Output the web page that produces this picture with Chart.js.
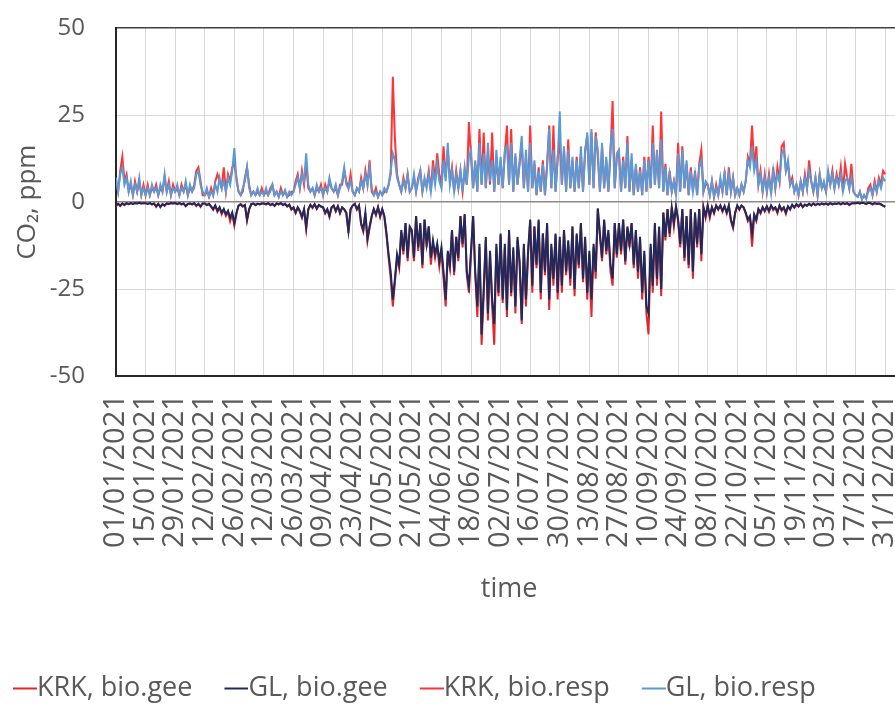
<!DOCTYPE html>
<html>
<head>
<meta charset="utf-8">
<title>CO2 bio fluxes 2021</title>
<script src="https://cdn.jsdelivr.net/npm/chart.js@4.4.0/dist/chart.umd.min.js"></script>
<style>
    html, body { margin: 0; padding: 0; background: #ffffff; overflow: hidden; }
    #wrap { width: 920px; height: 712px; }
</style>
</head>
<body>
<div id="wrap"><canvas id="co2-chart" width="920" height="712"></canvas></div>
<script>
// Tick labels on the time axis, one every 14 days
const tickLabels = [
    '01/01/2021', '15/01/2021', '29/01/2021', '12/02/2021', '26/02/2021', '12/03/2021', '26/03/2021',
    '09/04/2021', '23/04/2021', '07/05/2021', '21/05/2021', '04/06/2021', '18/06/2021', '02/07/2021',
    '16/07/2021', '30/07/2021', '13/08/2021', '27/08/2021', '10/09/2021', '24/09/2021', '08/10/2021',
    '22/10/2021', '05/11/2021', '19/11/2021', '03/12/2021', '17/12/2021', '31/12/2021'
];
const tickDays = tickLabels.map((_, i) => i * 14);

const seriesNames = ['KRK, bio.gee', 'GL, bio.gee', 'KRK, bio.resp', 'GL, bio.resp'];

// Daily values (ppm), 01/01/2021 .. 31/12/2021, one row per two weeks
const krkGee = [
    -1.2,-0.5,-1.1,-0.4,-0.9,-0.3,-0.6,-0.3,-0.5,-0.3,-0.4,-0.2,-0.4,-0.3,
    -0.3,-0.5,-0.3,-0.7,-0.4,-1.4,-0.5,-1.5,-0.6,-1.1,-0.4,-0.6,-0.3,-0.4,
    -0.3,-0.6,-0.3,-0.7,-0.4,-1.2,-0.5,-0.4,-0.7,-0.3,-1.1,-0.5,-1.4,-0.4,
    -0.4,-0.9,-0.5,-1.4,-2.3,-1,-2.8,-1.6,-3.5,-2.2,-4,-2.8,-5.5,-3.4,
    -6.8,-3.5,-1,-0.6,-1.3,-0.9,-5.4,-2.2,-0.6,-0.4,-0.9,-0.5,-0.7,-0.4,
    -0.4,-0.7,-0.3,-0.9,-0.5,-1.1,-0.4,-0.7,-0.3,-0.9,-0.5,-1.3,-0.8,-2.2,
    -1.6,-3.2,-1.6,-2.8,-4.5,-2.2,-7.8,-2.2,-0.8,-1.7,-0.6,-2,-0.9,-1.4,
    -1.6,-3.3,-2.2,-4.3,-1.6,-1,-2.7,-1.2,-3.3,-1.6,-2.2,-3.3,-8.9,-2.2,
    -1,-0.5,-2.2,-1,-6.5,-8.5,-3.2,-11.2,-7.5,-4.2,-2,-3.8,-1.5,-4.3,
    -2.2,-4.3,-9.5,-16,-22,-30,-23,-16,-19,-8.5,-15,-6,-17,-7.5,
    -8.5,-17,-4,-14,-6.5,-19,-5,-13,-7,-18,-12,-16,-12.5,-18.5,
    -14,-22,-30,-15,-19,-8,-21,-10,-17,-4,-13,-3.5,-21,-26,
    -15,-4,-21,-33,-13,-41,-27,-11,-34,-15,-30,-41,-13,-27,
    -9.5,-29,-13,-33,-8.5,-27,-14,-32,-11,-18,-35,-13,-30,-15,
    -5.5,-26,-7,-19,-5.5,-28,-9,-21,-6.5,-31,-13,-24,-9.5,-28,
    -11,-26,-8,-21,-12,-24,-7,-27,-9.5,-19,-6,-23,-11,-28,
    -15,-33,-13,-22,-2,-10,-17,-5.5,-15,-9,-20,-24,-6,-16,
    -6.5,-15,-5,-18,-7.5,-13,-6,-19,-8.5,-22,-11,-28,-15,-32,
    -38,-13,-26,-6.5,-24,-7.5,-27,-3,-11,-2,-10,-1.5,-7,-1.3,
    -5.5,-13,-2,-17,-4,-19,-2,-22,-3,-13,-2,-17,-1.5,-4.5,
    -1,-4.5,-1.5,-3.3,-1,-2.2,-1,-2.8,-1.2,-3.3,-1,-5.5,-7.5,-3.2,
    -1,-2.2,-1,-1.6,-3.3,-5.5,-4.5,-12.8,-4,-5.5,-2.2,-3.3,-1.5,-2.7,
    -1.3,-2.8,-1,-2.3,-1.6,-3.2,-1,-2.5,-1.6,-3.4,-1.3,-2.2,-0.8,-1.6,
    -0.7,-1.3,-0.5,-1.5,-0.8,-1.1,-0.5,-1,-0.4,-0.9,-0.5,-0.8,-0.4,-0.7,
    -0.4,-0.8,-0.3,-0.7,-0.4,-0.6,-0.3,-0.7,-0.3,-0.6,-0.3,-0.9,-0.4,-0.3,
    -0.3,-0.2,-0.4,-0.2,-0.3,-0.6,-0.2,-0.3,-0.7,-0.3,-0.6,-0.4,-0.7,-1.1,
    -1.4
];
const glGee = [
    -1,-0.5,-1,-0.4,-0.8,-0.3,-0.6,-0.3,-0.5,-0.3,-0.4,-0.2,-0.4,-0.3,
    -0.3,-0.5,-0.3,-0.6,-0.4,-1.2,-0.5,-1.3,-0.6,-1,-0.4,-0.5,-0.3,-0.4,
    -0.3,-0.5,-0.3,-0.6,-0.4,-1.1,-0.5,-0.4,-0.6,-0.3,-1,-0.5,-1.2,-0.4,
    -0.4,-0.8,-0.5,-1.2,-2,-1,-2.5,-1.5,-3,-2,-3.5,-2.5,-4.5,-3,
    -6,-3,-1,-0.6,-1.2,-0.8,-5,-2,-0.6,-0.4,-0.8,-0.5,-0.6,-0.4,
    -0.4,-0.6,-0.3,-0.8,-0.5,-1,-0.4,-0.6,-0.3,-0.8,-0.5,-1.2,-0.7,-2,
    -1.5,-3,-1.5,-2.5,-4.2,-2,-7.3,-2,-0.8,-1.5,-0.6,-1.8,-0.8,-1.2,
    -1.5,-3,-2,-4,-1.5,-1,-2.5,-1.2,-3,-1.5,-2,-3,-8.3,-2,
    -1,-0.5,-2,-1,-6,-8,-3,-10.5,-7,-4,-2,-3.5,-1.5,-4,
    -2,-4,-9,-15,-20,-28,-22,-15,-18,-8,-14,-6,-16,-7,
    -8,-16,-4,-13,-6,-18,-5,-12,-7,-16,-11,-15,-12,-17,
    -13,-20,-28,-14,-18,-8,-20,-10,-16,-4,-12,-3.5,-20,-24,
    -14,-4,-20,-30,-12,-38,-25,-10,-32,-14,-28,-35,-12,-26,
    -9,-28,-12,-31,-8,-26,-13,-30,-10,-17,-34,-12,-28,-14,
    -5,-24,-7,-18,-5,-26,-9,-20,-6,-28,-12,-22,-9,-26,
    -10,-24,-8,-20,-11,-22,-7,-25,-9,-18,-6,-22,-10,-26,
    -14,-28,-12,-20,-1.8,-9,-16,-5,-14,-8,-18,-22,-6,-15,
    -6,-14,-5,-17,-7,-12,-6,-18,-8,-20,-10,-26,-14,-30,
    -32,-12,-24,-6,-22,-7,-25,-3,-10,-2,-9,-1.5,-6,-1.3,
    -5,-12,-2,-16,-4,-18,-2,-20,-3,-12,-2,-15,-1.5,-4,
    -1,-4,-1.5,-3,-1,-2,-1,-2.5,-1.2,-3,-1,-5,-7,-3,
    -1,-2,-1,-1.5,-3,-5,-4,-9,-3.5,-5,-2,-3,-1.5,-2.5,
    -1.2,-2.5,-1,-2,-1.5,-2.8,-1,-2.2,-1.5,-3,-1.2,-2,-0.8,-1.5,
    -0.6,-1.2,-0.5,-1.4,-0.7,-1,-0.5,-0.9,-0.4,-0.8,-0.5,-0.7,-0.4,-0.6,
    -0.4,-0.7,-0.3,-0.6,-0.4,-0.5,-0.3,-0.6,-0.3,-0.5,-0.3,-0.8,-0.4,-0.3,
    -0.3,-0.2,-0.4,-0.2,-0.3,-0.5,-0.2,-0.3,-0.6,-0.3,-0.5,-0.4,-0.6,-1,
    -1.3
];
const krkResp = [
    6,3,9,13,6,8,3,5,2,6,3,6,2,5,
    2,5,2,4,3,5,2,4,3,7,3,6,2,5,
    3,4,2,5,3,5,2,4,3,5,9,10,6,2,
    2,3,1.5,4,2,6,8,6,4,10,3,8,6,10,
    11,7,3,2,3,7,10,5,2,3,2,3,2,4,
    2,3,2,4,5,2,3,1.5,4,2,3,1.5,2,3,
    3,6,8,4,9,5,11,4,3,4,2,4,3,5,
    2,5,3,6,4,3,4,2,5,5,9,6,4,8,
    3,2,4,3,7,4,9,5,12,3,2,4,1.5,3,
    2,3,3,5,8,36,18,8,5,3,7,4,8,3,
    4,7,3,7,9,3,6,5,9,3,12,6,14,8,
    5,16,7,15,6,10,3,9,4,9,3,9,5,23,
    13,4,11,3,21,5,20,4,14,5,20,3,13,5,
    12,4,14,22,5,21,3,13,5,11,17,4,13,3,
    22,4,11,2,10,3,12,2,11,22,4,22,3,13,
    17,5,15,3,18,4,12,3,13,4,14,3,15,19,
    5,20,4,20,13,3,16,4,12,3,14,29,4,13,
    14,3,13,4,19,3,12,2,10,3,10,2,13,3,
    13,4,22,5,14,4,26,3,11,2,9,3,6,2,
    17,3,16,4,11,2,10,3,9,2,11,15,3,5,
    5,2,6,1.5,5,2,6,3,8,2,10,3,7,2,
    4,2,5,3,6,13,11,22,10,16,5,9,3,8,
    3,8,2.5,10,4,10,6,16,17,9,11,5,7,3,
    5,2,6,3,8,4,12,6,3,7,2,8,4,5,
    3,8,5,9,4,8,5,10,3,11,7,4,11,3,
    2,1.5,3,0.8,2,1,4,5,2,6,3,7,5,9,
    8
];
const glResp = [
    7,3,8,10,5,7,3,6,2,5,3,7,2,4,
    2,4,2,5,3,4,2,5,3,8,3,5,2,4,
    3,5,2,4,3,6,2,5,3,4,8,9,5,3,
    2,4,1.5,3,2,5,3,7,4,6,3,7,5,9,
    15.5,6,3,2,4,6,10,4,2,3,2,4,2,3,
    2,4,2,3,5,2,3,1.5,3,2,3.5,1.5,3,2,
    3,5,7,4,8,6,14,5,3,4,2,5,3,4,
    2,4,3,7,4,3,5,2,4,6,10,5,4,6,
    3,2,4,3,6,4,8,5,10,4,2,3,1.5,3,
    2,4,3,5,9,14,12,7,5,3,6,4,8,3,
    4,8,3,6,9,3,7,4,8,3,9,5,11,6,
    4,12,6,17,5,9,3,8,4,9,3,10,5,13,
    15,4,12,3,17,5,14,4,17,6,12,3,15,5,
    13,4,15,16,5,17,3,14,5,12,19,4,15,3,
    17,4,12,2,9,3,11,2,10,21,4,15,3,12,
    26,5,16,3,15,4,13,3,12,4,16,3,14,20,
    5,21,4,19,15,3,17,4,13,3,16,21,4,14,
    15,3,12,4,17,3,14,2,11,3,9,2,12,3,
    12,4,17,5,15,4,18,3,10,2,8,3,6,2,
    14,3,15,4,12,2,9,3,8,2,10,12,3,6,
    5,2,6,1.5,4,2,7,3,9,2,8,3,7,2,
    4,2,5,3,6,12,10,16,9,12,5,8,3,7,
    3,7,2.5,9,4,8,6,14,15,9,12,5,6,3,
    5,2,6,3,7,4,9,6,3,7,2,8,4,6,
    3,9,5,8,4,7,5,8,3,6,7,4,7,3,
    2,1.5,3,0.8,2,1,3,4,2,5,3,6,4,7,
    6
];

const seriesValues = [krkGee, glGee, krkResp, glResp];
const seriesColors = ['#e3262b', '#1f2a5c', '#ff3434', '#5a9ad6'];
// Excel draws later series on top; Chart.js draws lower "order" on top
const seriesOrder = [4, 3, 2, 1];

seriesValues.forEach((arr, i) => {
    if (arr.length !== 365) throw new Error(seriesNames[i] + ' has ' + arr.length + ' values');
});

// Short line used as legend symbol, sitting right against the label text
function legendLine(color) {
    const c = document.createElement('canvas');
    c.width = 38;
    c.height = 10;
    const g = c.getContext('2d');
    g.fillStyle = color;
    g.fillRect(14, 4, 24, 2);
    return c;
}

const textColor = '#595959';
const fontFamily = "'Open Sans', 'DejaVu Sans', sans-serif";
Chart.defaults.font.family = fontFamily;
Chart.defaults.color = textColor;

const datasets = seriesNames.map((name, i) => ({
    label: name,
    data: seriesValues[i].map((v, day) => ({ x: day, y: v })),
    borderColor: seriesColors[i],
    backgroundColor: seriesColors[i],
    borderWidth: 2,
    pointRadius: 0,
    pointStyle: legendLine(seriesColors[i]),
    tension: 0,
    order: seriesOrder[i]
}));

const ctx = document.getElementById('co2-chart').getContext('2d');
const co2Chart = new Chart(ctx, {
    type: 'line',
    data: { datasets: datasets },
    options: {
        responsive: false,
        animation: false,
        devicePixelRatio: 1,
        layout: { padding: { top: 28, left: -19, right: 0, bottom: 0 } },
        plugins: {
            tooltip: { enabled: false },
            legend: {
                position: 'bottom',
                align: 'start',
                labels: {
                    usePointStyle: true,
                    pointStyleWidth: 11,
                    boxWidth: 11,
                    boxHeight: 10,
                    padding: 31.5,
                    color: textColor,
                    font: { family: fontFamily, size: 27 },
                    // keep the series order, not the drawing order
                    sort: (a, b) => a.datasetIndex - b.datasetIndex
                }
            }
        },
        scales: {
            x: {
                type: 'linear',
                min: 0,
                max: 372,
                afterBuildTicks: function (scale) {
                    scale.ticks = tickDays.map(d => ({ value: d }));
                },
                ticks: {
                    autoSkip: false,
                    minRotation: 90,
                    maxRotation: 90,
                    padding: 0,
                    color: textColor,
                    font: { size: 29 },
                    callback: function (value, index) { return tickLabels[index]; }
                },
                grid: { color: '#d9d9d9', lineWidth: 1, drawTicks: true, tickLength: 18, tickColor: 'rgba(0,0,0,0)' },
                border: { color: '#262626', width: 2 },
                title: {
                    display: true,
                    text: 'time',
                    color: textColor,
                    font: { size: 27 },
                    padding: { top: 25, bottom: 38 }
                }
            },
            y: {
                min: -50,
                max: 50,
                afterFit: function (scale) { scale.width = 135; },
                ticks: {
                    stepSize: 25,
                    padding: 0,
                    color: textColor,
                    font: { size: 24 }
                },
                grid: {
                    drawTicks: true,
                    tickLength: 31,
                    tickColor: 'rgba(0,0,0,0)',
                    color: c => c.tick.value === 50 ? '#404040' : (c.tick.value === 0 ? '#8a8a8a' : '#d9d9d9'),
                    lineWidth: c => (c.tick.value === 50 || c.tick.value === 0) ? 1.6 : 1
                },
                border: { color: '#262626', width: 2 },
                title: {
                    display: true,
                    text: 'CO₂, ppm',
                    color: textColor,
                    font: { size: 26 },
                    padding: { top: 31, bottom: 4 }
                }
            }
        }
    }
});
</script>
</body>
</html>
